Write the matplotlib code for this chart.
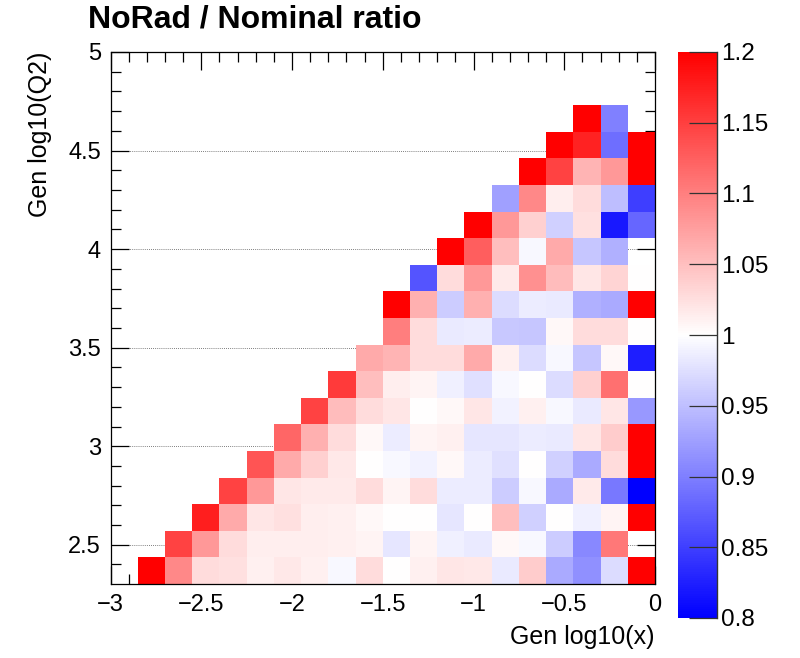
import numpy as np
import matplotlib
matplotlib.use("Agg")
import matplotlib.pyplot as plt
from matplotlib.ticker import MultipleLocator, FuncFormatter, FormatStrFormatter

# binning of the 2D histogram: 20 x 20 bins
x_edges = np.linspace(-3.0, 0.0, 21)
y_edges = np.linspace(np.log10(200.0), 5.0, 21)

nan = np.nan
# first filled x-bin of each log10(Q2) row (bottom row first)
row_start = [1, 2, 3, 4, 5, 6, 7, 8, 9, 10, 10, 11, 12, 13, 14, 15, 16, 17]
# ratio values from row_start up to the last x-bin
row_values = [
    [1.2, 1.093, 1.027, 1.025, 1.012, 1.018, 1.012, 0.994, 1.027, 1.0, 1.012, 1.02, 1.018, 0.984, 1.04, 0.933, 0.913, 0.973, 1.2],
    [1.147, 1.08, 1.027, 1.014, 1.014, 1.014, 1.012, 1.008, 0.98, 1.008, 0.988, 0.984, 1.005, 0.995, 0.96, 0.907, 1.106, nan],
    [1.175, 1.067, 1.02, 1.024, 1.014, 1.012, 1.005, 1.0, 1.0, 0.98, 1.0, 1.05, 0.963, 1.0, 0.988, 1.008, 1.2],
    [1.147, 1.08, 1.02, 1.017, 1.017, 1.027, 1.008, 1.027, 0.985, 0.985, 0.96, 0.995, 0.933, 1.017, 0.894, 0.8],
    [1.133, 1.067, 1.037, 1.018, 1.0, 0.995, 0.99, 1.005, 0.985, 0.976, 1.0, 0.963, 0.933, 1.027, 1.2],
    [1.12, 1.062, 1.027, 1.005, 0.985, 1.008, 1.012, 0.98, 0.98, 0.985, 0.984, 1.02, 1.04, 1.2],
    [1.147, 1.053, 1.027, 1.02, 1.0, 1.005, 1.02, 0.99, 1.012, 0.995, 0.984, 1.02, 0.92],
    [1.154, 1.05, 1.014, 1.008, 0.988, 0.976, 0.995, 1.0, 0.973, 1.037, 1.112, 1.0],
    [1.067, 1.058, 1.027, 1.027, 1.067, 1.012, 0.973, 0.995, 0.955, 1.005, 0.825],
    [1.1, 1.027, 0.984, 0.985, 0.957, 0.955, 1.005, 1.027, 1.027, 1.0],
    [1.2, 1.062, 0.96, 1.062, 0.973, 0.985, 0.984, 0.938, 0.933, 1.2],
    [0.867, 1.027, 1.08, 1.017, 1.087, 1.053, 1.02, 1.033, 1.0],
    [1.2, 1.125, 1.05, 0.995, 1.067, 0.955, 0.938, nan],
    [1.2, 1.08, 1.037, 0.963, 1.024, 0.82, 0.88],
    [0.925, 1.093, 1.014, 1.027, 0.95, 0.85],
    [1.2, 1.147, 1.058, 1.08, 1.2],
    [1.2, 1.173, 0.887, 1.2],
    [1.2, 0.9],
]

cbar_ticks = [0.8, 0.85, 0.9, 0.95, 1.0, 1.05, 1.1, 1.15, 1.2]

ratio = np.full((len(y_edges) - 1, len(x_edges) - 1), nan)
for j, (start, vals) in enumerate(zip(row_start, row_values)):
    ratio[j, start:start + len(vals)] = vals

plt.rcParams["font.family"] = ["Liberation Sans", "DejaVu Sans"]

W, H = 800, 658
fig = plt.figure(figsize=(W / 100, H / 100), dpi=100)

# main frame: x 110..655 px, y 52..584 px
ax = fig.add_axes([110.5 / W, 1 - 584 / H, 544.5 / W, 532 / H])
mesh = ax.pcolormesh(x_edges, y_edges, np.ma.masked_invalid(ratio), cmap="bwr",
                     vmin=0.8, vmax=1.2, shading="flat", antialiased=False, linewidth=0)
ax.set_xlim(x_edges[0], x_edges[-1])
ax.set_ylim(y_edges[0], y_edges[-1])

ax.set_axisbelow(True)
ax.yaxis.grid(True, which="major", linestyle=(0, (1, 1.5)), color="#555555", linewidth=0.6)

minus_fmt = FuncFormatter(lambda v, pos: f"{v:g}".replace("-", "\u2212"))
ax.xaxis.set_major_locator(MultipleLocator(0.5))
ax.xaxis.set_minor_locator(MultipleLocator(0.1))
ax.yaxis.set_major_locator(MultipleLocator(0.5))
ax.yaxis.set_minor_locator(MultipleLocator(0.1))
ax.xaxis.set_major_formatter(minus_fmt)
ax.yaxis.set_major_formatter(minus_fmt)
ax.tick_params(which="both", direction="in", top=True, right=True, width=0.9)
ax.tick_params(which="major", length=13, labelsize=17, pad=7)
ax.tick_params(which="minor", length=7)
for sp in ax.spines.values():
    sp.set_linewidth(0.9)

# palette axis
cax = fig.add_axes([678 / W, 1 - 618 / H, 39 / W, 566 / H])
cb = fig.colorbar(mesh, cax=cax, ticks=cbar_ticks)
cb.outline.set_visible(False)
cax.plot([1, 1], [0, 1], transform=cax.transAxes, color="#333333", linewidth=1, clip_on=False)
cax.yaxis.set_major_formatter(FormatStrFormatter("%g"))
cax.tick_params(direction="in", length=20, width=0.9, labelsize=17.5, pad=3, color="#333333")
cax.minorticks_off()

fig.text(88 / W, 1 - 19 / H, "NoRad / Nominal ratio", fontsize=23, fontweight="bold",
         ha="left", va="center")
fig.text(40 / W, 1 - 52 / H, "Gen log10(Q2)", rotation=90, ha="center", va="top", fontsize=18)
fig.text(655 / W, 1 - 637 / H, "Gen log10(x)", ha="right", va="center", fontsize=18)

fig.savefig("out.png", dpi=100)
